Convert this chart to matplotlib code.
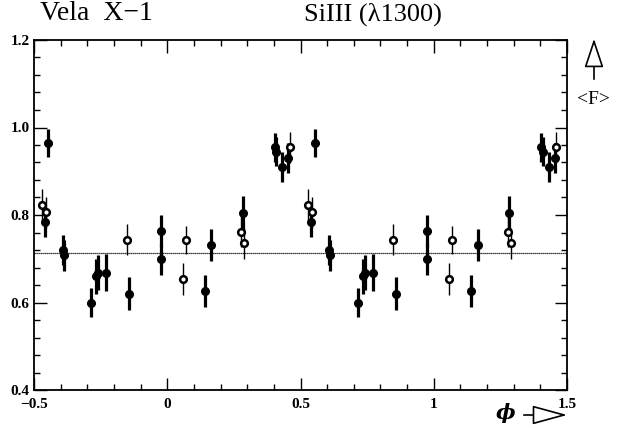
import matplotlib
matplotlib.use("Agg")
import matplotlib.pyplot as plt
from matplotlib.patches import FancyArrowPatch
from matplotlib.ticker import MultipleLocator
import numpy as np

# Orbital phase (one cycle, shown twice: phase and phase+1)
phase = [-0.447, -0.470, -0.455, -0.460, -0.392, -0.388, -0.286, -0.267, -0.259,
         -0.229, -0.152, -0.142, -0.024, -0.024, 0.058, 0.069, 0.141, 0.165,
         0.283, 0.277, 0.289, 0.404, 0.409, 0.431, 0.454, 0.460]
flux = [0.964, 0.824, 0.806, 0.785, 0.720, 0.708, 0.600, 0.660, 0.668,
        0.668, 0.744, 0.620, 0.763, 0.700, 0.654, 0.743, 0.626, 0.731,
        0.804, 0.762, 0.735, 0.955, 0.945, 0.910, 0.930, 0.955]
err = [0.032, 0.035, 0.035, 0.035, 0.035, 0.035, 0.034, 0.040, 0.040,
       0.042, 0.035, 0.038, 0.037, 0.037, 0.036, 0.033, 0.037, 0.036,
       0.040, 0.035, 0.035, 0.033, 0.033, 0.034, 0.034, 0.035]
filled = [1, 0, 0, 1, 1, 1, 1, 1, 1,
          1, 0, 1, 1, 1, 0, 0, 1, 1,
          1, 0, 0, 1, 1, 1, 1, 0]
mean_level = 0.713
cycle_shifts = [0, 1]

xticks = [-0.5, 0, 0.5, 1, 1.5]
xticklabels = ["\u22120.5", "0", "0.5", "1", "1.5"]
yticks = [0.4, 0.6, 0.8, 1.0, 1.2]
yticklabels = ["0.4", "0.6", "0.8", "1.0", "1.2"]

fig = plt.figure(figsize=(6.21, 4.28), dpi=100)
ax = fig.add_axes([34/621, 1-390/428, (567-34)/621, (390-40)/428])

ax.axhline(mean_level, color="black", lw=0.9, ls=(0, (1, 0.6)), zorder=1)

ph = np.array(phase)
fl = np.array(flux)
er = np.array(err)
fm = np.array(filled, dtype=bool)
for s in cycle_shifts:
    x = ph + s
    ax.errorbar(x[fm], fl[fm], yerr=er[fm], fmt="o", color="black",
                ms=5.5, elinewidth=2.3, capsize=0, zorder=3)
    ax.errorbar(x[~fm], fl[~fm], yerr=er[~fm], fmt="o", color="black",
                mfc="white", mec="black", mew=1.8, ms=4.8,
                elinewidth=1.0, capsize=0, zorder=4)

ax.set_xlim(-0.5, 1.5)
ax.set_ylim(0.4, 1.2)
ax.set_xticks(xticks)
ax.set_xticklabels(xticklabels)
ax.set_yticks(yticks)
ax.set_yticklabels(yticklabels)
ax.xaxis.set_minor_locator(MultipleLocator(0.1))
ax.yaxis.set_minor_locator(MultipleLocator(0.04))
ax.tick_params(which="both", direction="in", top=True, right=True, width=1.0)
ax.tick_params(which="major", length=9)
ax.tick_params(axis="x", which="major", pad=6)
ax.tick_params(axis="y", which="major", pad=3)
ax.tick_params(which="minor", length=4.5)
for lab in ax.get_xticklabels() + ax.get_yticklabels():
    lab.set_fontfamily("Liberation Serif")
    lab.set_fontweight("bold")
    lab.set_fontsize(11)
for sp in ax.spines.values():
    sp.set_linewidth(1.3)

def fx(px):
    return px / 621
def fy(py):
    return 1 - py / 428

fig.text(fx(40), fy(14), "Vela  X\u22121", fontsize=20, family="Liberation Serif",
         ha="left", va="center")
fig.text(fx(373), fy(14), "SiIII (\u03bb1300)", fontsize=19, family="Liberation Serif",
         ha="center", va="center")

# <F> with up arrow
fig.text(fx(593), fy(100), "<F>", fontsize=14, family="Liberation Serif",
         ha="center", va="center")
fig.patches.append(FancyArrowPatch((fx(594), fy(82)), (fx(594), fy(36)),
                                   transform=fig.transFigure, arrowstyle="-|>,head_length=9,head_width=3",
                                   fc="white", ec="black", lw=1.2, mutation_scale=2))
# phi with right arrow
fig.text(fx(506), fy(413), "\u03d5", fontsize=15, family="DejaVu Serif",
         fontstyle="italic", fontweight="bold", ha="center", va="center")
fig.patches.append(FancyArrowPatch((fx(521), fy(415)), (fx(570), fy(415)),
                                   transform=fig.transFigure, arrowstyle="-|>,head_length=11,head_width=3",
                                   fc="white", ec="black", lw=1.2, mutation_scale=2))

fig.savefig("out.png", dpi=100)
